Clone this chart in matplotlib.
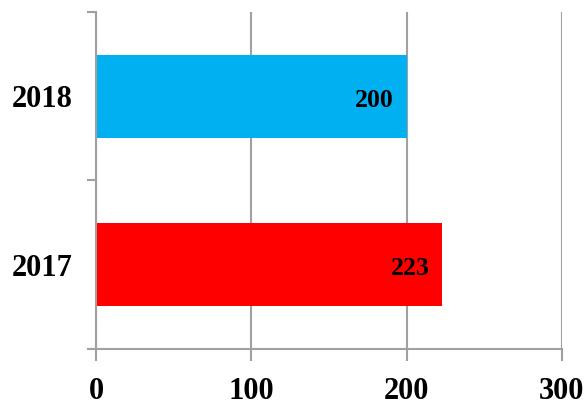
import matplotlib.pyplot as plt
import numpy as np

# chart data
years = ["2017", "2018"]
values = [223, 200]
bar_colors = ["#FF0000", "#00B0F0"]
x_ticks = [0, 100, 200, 300]

plt.rcParams['font.family'] = ['Liberation Serif', 'DejaVu Serif']
plt.rcParams['font.weight'] = 'bold'

grey = "#A0A0A0"

fig = plt.figure(figsize=(5.86, 4.11), dpi=100)
ax = fig.add_axes([0.1638, 0.1509, 0.7952, 0.82])

pos = np.arange(len(years))
bars = ax.barh(pos, values, height=0.49, color=bar_colors, zorder=3)

# value labels inside the bar end
for b, v in zip(bars, values):
    ax.annotate(str(v), (b.get_width(), b.get_y() + b.get_height() / 2),
                xytext=(-13, -4), textcoords="offset pixels",
                ha="right", va="center", fontsize=18.5, fontweight="bold")

ax.set_xlim(0, 300)
ax.set_ylim(-0.5, len(years) - 0.5)

ax.set_xticks(x_ticks)
ax.set_xticklabels([str(t) for t in x_ticks], fontsize=22, fontweight="bold")
ax.xaxis.grid(True, color=grey, linewidth=1.5, zorder=0)

# category boundaries carry tick marks, labels sit between them
ax.set_yticks(np.arange(-0.5, len(years), 1.0))
ax.set_yticklabels([])
ax.set_yticks(pos, minor=True)
ax.set_yticklabels(years, minor=True, fontsize=22, fontweight="bold")
ax.tick_params(axis="y", which="major", length=6.5, width=1.5, color=grey)
ax.tick_params(axis="y", which="minor", length=0, pad=17)
ax.tick_params(axis="x", length=8.5, width=1.5, color=grey, pad=12)

for side in ["top", "right"]:
    ax.spines[side].set_visible(False)
for side in ["left", "bottom"]:
    ax.spines[side].set_color(grey)
    ax.spines[side].set_linewidth(1.5)
    ax.spines[side].set_zorder(4)

fig.savefig("out.png", dpi=100)
